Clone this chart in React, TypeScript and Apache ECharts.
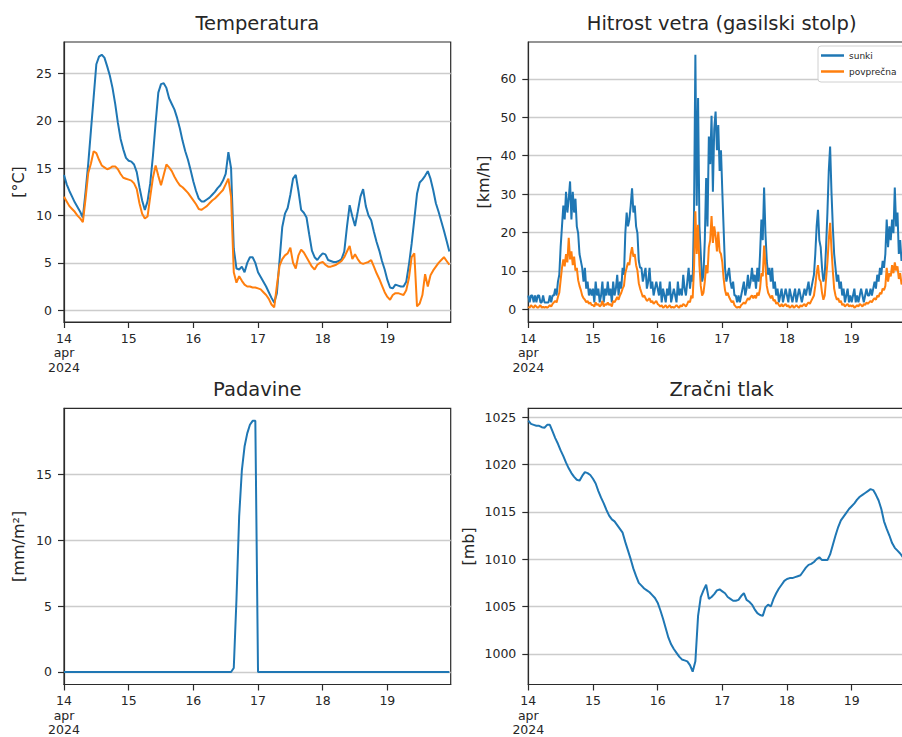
import React, { useEffect, useRef } from "react";
import * as echarts from "echarts";

// ---- data -----------------------------------------------------------------

// Time axis is expressed in days of April 2024 (14.0 = 14 Apr 00:00).
const START_DAY = 14;
const X_END = 14 + 143.5 / 24;
const DAY_TICKS = [14, 15, 16, 17, 18, 19];
const DAY_LABELS = ["14\napr\n2024", "15", "16", "17", "18", "19"];

const TEMP_TICKS = [0, 5, 10, 15, 20, 25];
const WIND_TICKS = [0, 10, 20, 30, 40, 50, 60];
const RAIN_TICKS = [0, 5, 10, 15];
const PRESSURE_TICKS = [1000, 1005, 1010, 1015, 1020, 1025];

const TITLES = ["Temperatura", "Hitrost vetra (gasilski stolp)", "Padavine", "Zračni tlak"];
const UNITS = ["[°C]", "[km/h]", "[mm/m²]", "[mb]"];
const WIND_NAMES = ["sunki", "povprečna"];

// Temperature, hourly values (°C)
const temperatura1 = [
  14.3, 13.3, 12.6, 12.0, 11.4, 10.9, 10.4, 9.8, 12.5, 15.5, 19.0, 22.5, 26.0, 26.8, 27.0, 26.7, 25.8, 24.8, 23.5, 21.8, 19.8, 18.1, 17.0, 16.1,
  15.8, 15.7, 15.4, 14.6, 13.0, 11.6, 10.6, 11.5, 13.4, 16.3, 19.8, 23.0, 23.9, 24.0, 23.5, 22.4, 21.8, 21.2, 20.3, 19.2, 17.9, 16.8, 15.9, 14.8,
  13.6, 12.6, 11.8, 11.5, 11.5, 11.7, 11.9, 12.2, 12.5, 12.9, 13.2, 13.7, 14.4, 16.7, 15.0, 6.5, 4.4, 4.3, 4.6, 4.0, 5.0, 5.6, 5.6, 5.0,
  4.0, 3.5, 3.0, 2.5, 1.9, 1.3, 0.8, 1.8, 5.3, 8.8, 10.2, 10.8, 12.2, 13.9, 14.3, 12.6, 10.6, 10.3, 9.8, 8.0, 6.3, 5.6, 5.3, 5.7,
  6.0, 5.9, 5.3, 5.2, 5.1, 5.1, 5.2, 5.4, 6.2, 8.8, 11.1, 9.9, 8.9, 10.4, 12.0, 12.8, 11.0, 10.0, 9.5, 8.3, 7.2, 6.3, 5.2, 4.3,
  3.2, 2.4, 2.3, 2.7, 2.6, 2.5, 2.5, 3.0, 4.8, 7.0, 9.6, 12.3, 13.5, 13.8, 14.2, 14.7, 13.9, 12.7, 11.3, 10.4, 9.4, 8.4, 7.3, 6.2,
];

const temperatura2 = [
  12.0, 11.5, 11.0, 10.7, 10.4, 10.0, 9.7, 9.3, 11.8, 14.5, 15.5, 16.8, 16.6, 15.9, 15.3, 15.1, 14.9, 15.0, 15.2, 15.2, 14.9, 14.4, 14.0, 13.9,
  13.8, 13.7, 13.4, 12.8, 11.3, 10.2, 9.7, 9.9, 12.0, 14.0, 15.3, 14.2, 13.2, 14.3, 15.4, 15.1, 14.7, 14.1, 13.6, 13.2, 13.0, 12.7, 12.4, 12.0,
  11.6, 11.2, 10.7, 10.6, 10.8, 11.0, 11.3, 11.6, 11.8, 12.1, 12.4, 12.7, 13.3, 13.9, 12.0, 4.0, 2.9, 3.6, 3.1, 2.7, 2.5, 2.5, 2.4, 2.4,
  2.3, 2.2, 1.9, 1.6, 1.2, 0.6, 0.3, 2.6, 4.7, 5.4, 5.8, 6.0, 6.6, 5.0, 4.4, 5.8, 6.4, 6.1, 5.6, 5.1, 4.6, 4.3, 4.8, 5.0,
  5.1, 4.8, 4.6, 4.6, 4.7, 4.8, 5.0, 5.2, 5.6, 6.2, 6.8, 5.4, 5.9, 5.4, 5.0, 4.9, 5.0, 5.1, 5.3, 4.6, 3.9, 3.3, 2.6, 1.9,
  1.4, 1.1, 1.6, 1.8, 1.8, 1.7, 1.6, 2.1, 3.4, 5.6, 6.0, 0.4, 0.7, 1.6, 3.8, 2.5, 3.7, 4.2, 4.6, 5.0, 5.3, 5.6, 5.2, 4.8,
];

// Wind speed, half-hourly values (km/h)
const vetrSunki = [
  3.6, 1.8, 3.6, 3.6, 1.8, 3.6, 1.8, 3.6, 3.6, 1.8, 1.8, 3.6,
  1.8, 1.8, 1.8, 1.8, 3.6, 1.8, 3.6, 3.6, 5.4, 3.6, 7.2, 9.0,
  16.2, 21.6, 27.0, 23.4, 30.6, 25.2, 28.8, 33.3, 23.4, 30.6, 25.2, 28.8,
  21.6, 19.8, 14.4, 12.6, 10.8, 7.2, 10.8, 5.4, 7.2, 3.6, 5.4, 3.6,
  5.4, 1.8, 7.2, 3.6, 5.4, 1.8, 3.6, 7.2, 1.8, 5.4, 3.6, 7.2,
  3.6, 5.4, 1.8, 7.2, 3.6, 5.4, 9.0, 3.6, 7.2, 5.4, 10.8, 9.0,
  19.8, 25.2, 21.6, 23.4, 27.0, 31.5, 25.2, 27.0, 21.6, 19.8, 12.6, 10.8,
  10.8, 7.2, 9.0, 10.8, 5.4, 7.2, 10.8, 5.4, 7.2, 3.6, 5.4, 7.2,
  5.4, 3.6, 7.2, 1.8, 5.4, 3.6, 1.8, 5.4, 3.6, 7.2, 1.8, 3.6,
  5.4, 3.6, 1.8, 7.2, 3.6, 5.4, 3.6, 9.0, 5.4, 3.6, 7.2, 10.8,
  5.4, 9.0, 7.2, 25.2, 66.3, 27.0, 55.0, 21.6, 14.4, 7.2, 9.0, 18.0,
  34.2, 21.6, 45.0, 37.8, 50.4, 30.6, 47.0, 51.5, 41.4, 48.0, 36.0, 41.4,
  30.6, 20.7, 10.8, 7.2, 9.0, 10.8, 7.2, 5.4, 7.2, 3.6, 3.6, 1.8,
  3.6, 1.8, 3.6, 5.4, 7.2, 3.6, 5.4, 9.0, 5.4, 7.2, 10.8, 7.2,
  9.0, 5.4, 10.8, 7.2, 14.4, 23.4, 18.0, 31.7, 19.8, 12.6, 9.0, 10.8,
  7.2, 10.8, 5.4, 7.2, 3.6, 5.4, 1.8, 3.6, 5.4, 1.8, 3.6, 5.4,
  3.6, 1.8, 5.4, 3.6, 1.8, 3.6, 5.4, 1.8, 3.6, 5.4, 3.6, 1.8,
  3.6, 5.4, 3.6, 5.4, 7.2, 3.6, 5.4, 7.2, 9.0, 14.4, 21.6, 25.9,
  18.0, 16.2, 10.8, 7.2, 9.0, 16.2, 25.2, 36.0, 42.4, 30.6, 21.6, 14.4,
  10.8, 7.2, 9.0, 5.4, 7.2, 3.6, 5.4, 1.8, 3.6, 5.4, 1.8, 3.6,
  1.8, 3.6, 5.4, 1.8, 3.6, 1.8, 3.6, 5.4, 3.6, 1.8, 3.6, 5.4,
  3.6, 3.6, 5.4, 3.6, 5.4, 7.2, 5.4, 9.0, 7.2, 10.8, 9.0, 12.6,
  10.8, 14.4, 23.4, 16.2, 21.6, 18.0, 23.4, 19.8, 31.7, 21.6, 25.2, 14.4,
  18.0, 12.6, 14.4, 10.8, 12.6, 9.0, 10.8, 7.2, 9.0, 5.4, 7.2, 5.4,
];

const vetrPovprecna = [
  0.7, 0.4, 1.1, 0.7, 0.4, 1.1, 0.7, 0.4, 0.7, 1.1, 0.4, 0.7,
  0.4, 0.7, 0.4, 0.7, 1.1, 0.7, 1.4, 1.8, 2.2, 1.8, 3.2, 4.3,
  7.6, 10.8, 13.0, 11.2, 14.4, 12.2, 18.6, 13.0, 15.1, 11.5, 13.7, 10.1,
  10.8, 7.6, 6.1, 5.0, 3.6, 2.9, 2.5, 1.8, 2.2, 1.4, 1.8, 1.1,
  1.1, 0.7, 1.8, 1.1, 1.4, 0.7, 1.1, 2.2, 0.7, 1.4, 1.1, 1.8,
  1.1, 1.4, 0.7, 2.2, 1.8, 2.5, 3.2, 2.5, 3.6, 4.3, 5.4, 6.1,
  9.4, 10.8, 12.2, 11.5, 14.4, 16.2, 13.7, 14.4, 11.5, 10.1, 6.8, 5.4,
  4.3, 3.2, 3.6, 2.9, 2.2, 2.5, 2.9, 1.8, 2.2, 1.4, 1.8, 2.2,
  1.4, 1.1, 0.7, 1.1, 0.4, 0.7, 1.1, 0.4, 0.7, 1.1, 0.4, 0.7,
  0.4, 0.7, 1.1, 0.7, 0.4, 1.1, 0.7, 1.4, 1.1, 0.7, 1.4, 2.2,
  1.8, 3.6, 2.9, 10.8, 25.5, 14.4, 22.0, 11.5, 6.1, 3.6, 4.3, 7.2,
  11.5, 9.4, 16.2, 18.0, 24.3, 17.3, 21.6, 19.1, 15.1, 20.2, 15.1, 14.4,
  12.2, 7.9, 5.0, 3.6, 4.3, 3.2, 2.5, 1.8, 2.2, 1.1, 0.7, 0.4,
  0.7, 0.4, 1.1, 1.4, 1.8, 1.4, 2.2, 2.9, 2.5, 3.2, 3.6, 2.9,
  3.6, 2.9, 4.3, 3.6, 5.4, 9.4, 8.6, 16.6, 11.5, 6.1, 4.3, 3.6,
  2.9, 3.6, 2.2, 2.5, 1.4, 1.8, 1.1, 0.7, 1.4, 0.7, 1.1, 1.4,
  0.7, 1.1, 0.4, 0.7, 1.1, 0.4, 0.7, 1.1, 0.7, 0.4, 1.1, 0.7,
  1.1, 1.4, 0.7, 1.4, 1.8, 1.4, 2.2, 2.9, 3.6, 6.1, 9.4, 11.5,
  7.9, 7.2, 4.3, 2.5, 3.6, 7.9, 12.2, 18.0, 22.5, 15.8, 10.1, 5.4,
  3.6, 2.5, 2.9, 1.8, 2.2, 1.1, 1.4, 0.7, 1.1, 1.4, 0.7, 1.1,
  0.7, 1.1, 0.4, 0.7, 1.1, 0.7, 1.4, 1.1, 0.7, 1.4, 1.1, 1.8,
  1.4, 1.8, 2.2, 1.8, 2.5, 2.9, 2.5, 3.6, 3.2, 4.3, 4.0, 5.4,
  5.0, 6.1, 10.8, 7.2, 9.4, 8.6, 11.5, 9.4, 12.2, 10.1, 11.2, 7.9,
  9.4, 6.5, 7.2, 5.4, 6.1, 4.3, 5.0, 3.6, 4.3, 2.9, 3.6, 2.5,
];

// Precipitation, hourly cumulative values (mm/m²)
const padavine = [
  0, 0, 0, 0, 0, 0, 0, 0, 0, 0, 0, 0, 0, 0, 0, 0, 0, 0, 0, 0, 0, 0, 0, 0,
  0, 0, 0, 0, 0, 0, 0, 0, 0, 0, 0, 0, 0, 0, 0, 0, 0, 0, 0, 0, 0, 0, 0, 0,
  0, 0, 0, 0, 0, 0, 0, 0, 0, 0, 0, 0, 0, 0, 0, 0.3, 5.5, 11.8, 15.3, 17.1, 18.1, 18.75, 19.05, 19.05,
  0, 0, 0, 0, 0, 0, 0, 0, 0, 0, 0, 0, 0, 0, 0, 0, 0, 0, 0, 0, 0, 0, 0, 0,
  0, 0, 0, 0, 0, 0, 0, 0, 0, 0, 0, 0, 0, 0, 0, 0, 0, 0, 0, 0, 0, 0, 0, 0,
  0, 0, 0, 0, 0, 0, 0, 0, 0, 0, 0, 0, 0, 0, 0, 0, 0, 0, 0, 0, 0, 0, 0, 0,
];

// Air pressure, hourly values (mb)
const zracniTlak = [
  1024.65, 1024.3, 1024.2, 1024.1, 1024.1, 1023.95, 1023.9, 1024.2, 1024.2, 1023.5, 1022.8, 1022.2, 1021.5, 1020.9, 1020.2, 1019.6, 1019.1, 1018.7, 1018.4, 1018.3, 1018.8, 1019.2, 1019.1, 1018.9,
  1018.5, 1018.0, 1017.2, 1016.5, 1015.9, 1015.2, 1014.6, 1014.2, 1014.0, 1013.6, 1013.2, 1012.8, 1011.8, 1010.9, 1010.0, 1009.0, 1008.2, 1007.5, 1007.2, 1006.9, 1006.7, 1006.5, 1006.2, 1005.9,
  1005.4, 1004.6, 1003.7, 1002.7, 1001.7, 1001.0, 1000.5, 1000.1, 999.7, 999.4, 999.3, 999.2, 998.8, 998.1, 999.2, 1004.0, 1006.0, 1006.7, 1007.3, 1005.8, 1006.0, 1006.3, 1006.7, 1006.8,
  1006.6, 1006.4, 1006.0, 1005.8, 1005.6, 1005.6, 1005.7, 1006.1, 1006.4, 1005.7, 1005.5, 1005.2, 1004.7, 1004.3, 1004.1, 1004.0, 1004.9, 1005.2, 1005.0, 1005.8, 1006.4, 1006.9, 1007.3, 1007.7,
  1007.9, 1008.0, 1008.0, 1008.1, 1008.2, 1008.3, 1008.7, 1009.1, 1009.4, 1009.5, 1009.7, 1010.0, 1010.2, 1009.9, 1009.9, 1009.9, 1010.5, 1011.5, 1012.5, 1013.4, 1014.1, 1014.5, 1014.9, 1015.3,
  1015.6, 1015.9, 1016.3, 1016.6, 1016.8, 1017.0, 1017.2, 1017.4, 1017.3, 1016.8, 1016.2, 1015.3, 1014.0, 1013.2, 1012.5, 1011.7, 1011.2, 1010.9, 1010.6, 1010.2, 1009.9, 1009.6, 1009.3, 1009.0,
];

// ---- styling --------------------------------------------------------------

const FONT = '"DejaVu Sans", "Liberation Sans", sans-serif';
const TEXT = "#262626";
const FRAME = "#2b2b2b";
const GRID_LINE = "#cccccc";
const BLUE = "#1f77b4";
const ORANGE = "#ff7f0e";

const PANEL_W = 386.7;
const PANEL_H = 280;
const PANELS = [
  { left: 64, top: 42 },
  { left: 528.3, top: 42 },
  { left: 64, top: 408.3 },
  { left: 528.3, top: 408.3 },
];

const toPoints = (values: number[], stepHours: number) =>
  values.map((v, i) => [START_DAY + (i * stepHours) / 24, v]);

const sameValue = (a: number, b: number) => Math.abs(a - b) < 1e-6;

function xAxisFor(gridIndex: number) {
  return {
    type: "value",
    gridIndex,
    min: START_DAY,
    max: X_END,
    splitNumber: 6,
    axisLine: { show: true, onZero: false, lineStyle: { color: FRAME, width: 1.2 } },
    axisTick: { show: true, length: 6, customValues: DAY_TICKS, lineStyle: { color: FRAME, width: 1.2 } },
    axisLabel: {
      customValues: DAY_TICKS,
      color: TEXT,
      fontSize: 12.5,
      fontFamily: FONT,
      lineHeight: 14.5,
      margin: 9,
      formatter: (v: number) => {
        const k = DAY_TICKS.findIndex((d) => sameValue(d, v));
        return k >= 0 ? DAY_LABELS[k] : "";
      },
    },
    splitLine: { show: false },
  };
}

function yAxisFor(gridIndex: number, min: number, max: number, ticks: number[], name: string, nameGap: number) {
  return {
    type: "value",
    gridIndex,
    min,
    max,
    name,
    nameLocation: "middle",
    nameRotate: 90,
    nameGap,
    nameTextStyle: { fontSize: 16, color: TEXT, fontFamily: FONT },
    axisLine: { show: true, onZero: false, lineStyle: { color: FRAME, width: 1.2 } },
    axisTick: { show: true, length: 6, customValues: ticks, lineStyle: { color: FRAME, width: 1.2 } },
    axisLabel: {
      customValues: ticks,
      color: TEXT,
      fontSize: 12.5,
      fontFamily: FONT,
      margin: 12,
      formatter: (v: number) => (ticks.some((t) => sameValue(t, v)) ? String(v) : ""),
    },
    splitLine: { show: true, lineStyle: { color: GRID_LINE, width: 1.3 } },
  };
}

function lineSeries(name: string, data: number[][], axis: number, color: string, z: number) {
  return {
    type: "line",
    name,
    xAxisIndex: axis,
    yAxisIndex: axis,
    data,
    showSymbol: false,
    symbol: "none",
    z,
    lineStyle: { width: 2, color },
    itemStyle: { color },
    emphasis: { disabled: true },
  };
}

export default function App() {
  const ref = useRef<HTMLDivElement>(null);

  useEffect(() => {
    if (!ref.current) return;
    const chart = echarts.init(ref.current, undefined, { renderer: "svg" });

    chart.setOption({
      animation: false,
      backgroundColor: "#ffffff",
      textStyle: { fontFamily: FONT },
      grid: PANELS.map((p) => ({
        left: p.left,
        top: p.top,
        width: PANEL_W,
        height: PANEL_H,
        show: true,
        borderColor: FRAME,
        borderWidth: 1.2,
        backgroundColor: "transparent",
      })),
      xAxis: [0, 1, 2, 3].map((k) => xAxisFor(k)),
      yAxis: [
        yAxisFor(0, -1.25, 28.35, TEMP_TICKS, UNITS[0], 38),
        yAxisFor(1, -3.3, 69.6, WIND_TICKS, UNITS[1], 37),
        yAxisFor(2, -0.95, 20.0, RAIN_TICKS, UNITS[2], 38),
        yAxisFor(3, 996.75, 1025.95, PRESSURE_TICKS, UNITS[3], 52),
      ],
      legend: {
        data: WIND_NAMES,
        orient: "vertical",
        left: 818,
        top: 46,
        icon: "rect",
        itemWidth: 23,
        itemHeight: 2.5,
        itemGap: 7,
        padding: [5, 30, 6, 3],
        backgroundColor: "#ffffff",
        borderColor: "#d0d0d0",
        borderWidth: 1,
        borderRadius: 3,
        selectedMode: false,
        textStyle: { fontSize: 9, color: TEXT, fontFamily: FONT },
      },
      graphic: TITLES.map((t, k) => ({
        type: "text",
        x: PANELS[k].left + PANEL_W / 2,
        y: PANELS[k].top - 18.5,
        silent: true,
        style: {
          text: t,
          fontSize: 19.5,
          fontFamily: FONT,
          fill: TEXT,
          align: "center",
          verticalAlign: "middle",
        },
      })),
      series: [
        lineSeries("temperatura 1", toPoints(temperatura1, 1), 0, BLUE, 2),
        lineSeries("temperatura 2", toPoints(temperatura2, 1), 0, ORANGE, 3),
        lineSeries(WIND_NAMES[0], toPoints(vetrSunki, 0.5), 1, BLUE, 2),
        lineSeries(WIND_NAMES[1], toPoints(vetrPovprecna, 0.5), 1, ORANGE, 3),
        lineSeries("padavine", toPoints(padavine, 1), 2, BLUE, 2),
        lineSeries("tlak", toPoints(zracniTlak, 1), 3, BLUE, 2),
      ],
    });

    return () => chart.dispose();
  }, []);

  return (
    <div
      style={{
        position: "fixed",
        left: 0,
        top: 0,
        width: 902,
        height: 737,
        overflow: "hidden",
        background: "#ffffff",
      }}
    >
      <div ref={ref} style={{ width: 960, height: 737 }} />
    </div>
  );
}
